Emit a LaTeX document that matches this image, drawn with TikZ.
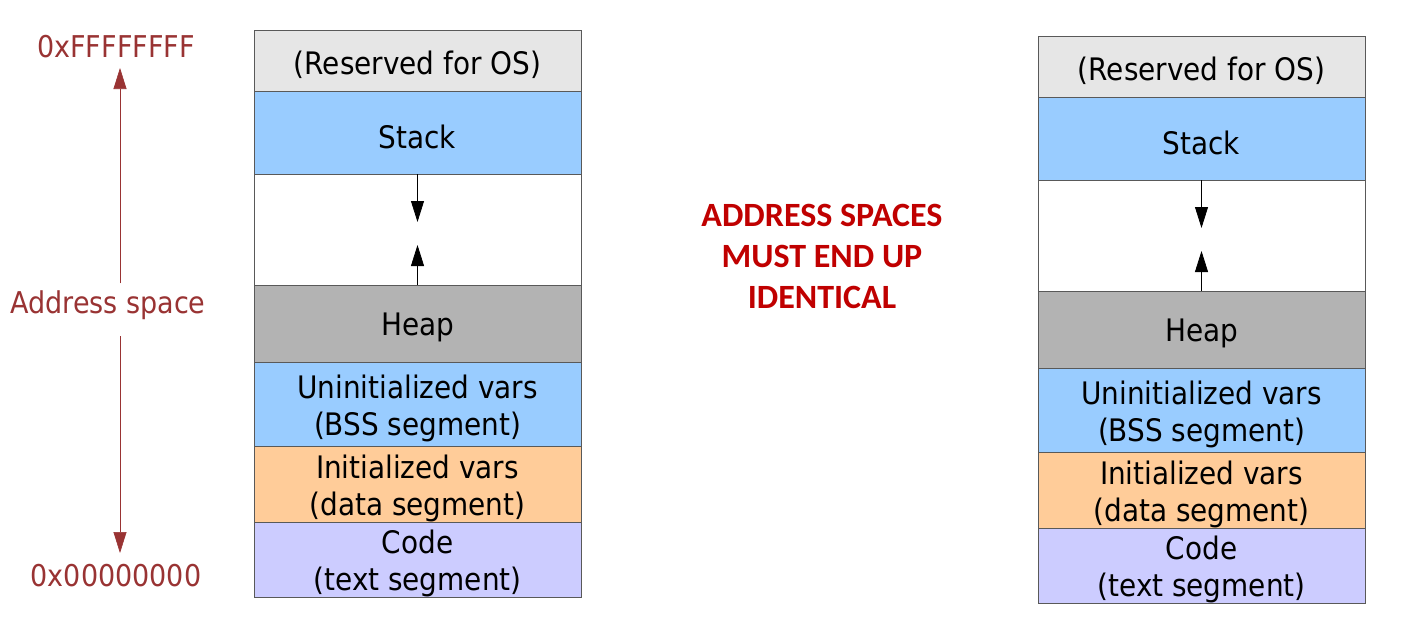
\documentclass[tikz,border=0pt]{standalone}
\usepackage{fontspec}
\setmainfont{DejaVu Sans Condensed}
\newfontfamily\notefont{Carlito}
\usetikzlibrary{positioning,arrows.meta}
\definecolor{osgray}{RGB}{230,230,230}
\definecolor{stackblue}{RGB}{153,204,255}
\definecolor{heapgray}{RGB}{179,179,179}
\definecolor{dataorange}{RGB}{255,204,153}
\definecolor{codeviolet}{RGB}{204,204,255}
\definecolor{addrred}{RGB}{153,51,51}
\definecolor{notered}{RGB}{192,0,0}
\tikzset{
  seg/.style={draw=black!65,line width=1pt,minimum width=327pt,inner sep=0pt,outer sep=0pt},
  seglabel/.style={align=center,yshift=-4pt,font=\fontsize{31}{37}\selectfont},
  growarrow/.style={-{Triangle[width=13pt,length=21pt]},line width=0.8pt},
  addr/.style={text=addrred,font=\fontsize{30}{34}\selectfont},
}
\begin{document}
\begin{tikzpicture}[x=1pt,y=-1pt]
	\useasboundingbox (0,0) rectangle (1408,624);
	\fill[white] (0,0) rectangle (1408,624);
	% the two address spaces
	\foreach \c/\dx/\dy in {l/254/30,r/1038/36}{
		\node[seg,fill=osgray,minimum height=61pt,anchor=north west,label={[seglabel]center:(Reserved for OS)}] (\c-os) at (\dx,\dy) {};
		\node[seg,fill=stackblue,minimum height=83pt,below=0pt of \c-os,label={[seglabel]center:Stack}] (\c-stack) {};
		\node[seg,fill=white,minimum height=111pt,below=0pt of \c-stack] (\c-free) {};
		\node[seg,fill=heapgray,minimum height=77pt,below=0pt of \c-free,label={[seglabel]center:Heap}] (\c-heap) {};
		\node[seg,fill=stackblue,minimum height=84pt,below=0pt of \c-heap,label={[seglabel]center:Uninitialized vars\\(BSS segment)}] (\c-bss) {};
		\node[seg,fill=dataorange,minimum height=76pt,below=0pt of \c-bss,label={[seglabel]center:Initialized vars\\(data segment)}] (\c-data) {};
		\node[seg,fill=codeviolet,minimum height=75pt,below=0pt of \c-data,label={[seglabel]center:Code\\(text segment)}] (\c-code) {};
		\coordinate (\c-down) at ([yshift=-48pt]\c-stack.south);
		\coordinate (\c-up) at ([yshift=40pt]\c-heap.north);
		\draw[growarrow] (\c-stack.south) -- (\c-down);
		\draw[growarrow] (\c-heap.north) -- (\c-up);
	}
	% address labels
	\node[addr] (top) at (116,47) {0xFFFFFFFF};
	\node[addr] (mid) at (108,305) {Address space};
	\node[addr] (bot) at (116,576) {0x00000000};
	\coordinate (top-tip) at (120,68);
	\coordinate (mid-up) at (120,283);
	\coordinate (mid-down) at (120,336);
	\coordinate (bot-tip) at (120,553);
	\draw[growarrow,draw=addrred,fill=addrred,line width=0.6pt] (mid-up) -- (top-tip);
	\draw[growarrow,draw=addrred,fill=addrred,line width=0.6pt] (mid-down) -- (bot-tip);
	% note
	\node[text=notered,font=\notefont\bfseries\fontsize{34}{41}\selectfont,align=center] (note) at (822,256)
		{ADDRESS SPACES\\MUST END UP\\IDENTICAL};
\end{tikzpicture}
\end{document}
